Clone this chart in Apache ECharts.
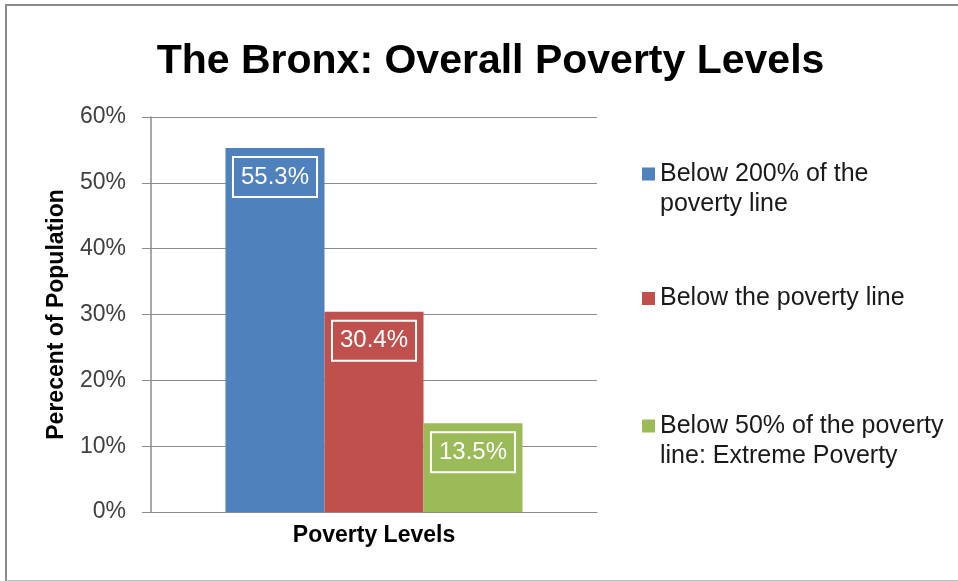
<!DOCTYPE html>
<html>
<head>
<meta charset="utf-8">
<title>The Bronx: Overall Poverty Levels</title>
<script src="https://cdn.jsdelivr.net/npm/echarts@6/dist/echarts.min.js"></script>
<style>
  html, body { margin: 0; padding: 0; background: #fff; }
  #wrap { position: relative; width: 958px; height: 581px; overflow: hidden; }
  #frame {
    position: absolute; left: 5px; top: 4px; width: 960px; height: 574px;
    border-left: 2px solid #8a8a8a; border-top: 2px solid #8a8a8a; border-bottom: 2px solid #bdbdbd;
    pointer-events: none;
  }
  #chart { position: absolute; left: 0; top: 0; width: 958px; height: 581px; }
</style>
</head>
<body>
<div id="wrap">
  <div id="chart"></div>
  <div id="frame"></div>
</div>
<script>
// Share of the Bronx population at each poverty threshold (percent)
const seriesNames = [
  'Below 200% of the\npoverty line',
  'Below the poverty line',
  'Below 50% of the poverty\nline: Extreme Poverty'
];
const seriesValues = [55.3, 30.4, 13.5];
const seriesColors = ['#4F81BD', '#C0504D', '#9BBB59'];
const categories = ['Poverty Levels'];
const yTicks = { min: 0, max: 60, interval: 10 };

const FONT = '"Liberation Sans", Arial, sans-serif';

// Legend swatch: a 13px square at the top of a taller box, so it lines up
// with the first line of a two-line legend entry.
const tallIcon = 'path://M0,0H13V13H0Z M0,42.95H0.05V43H0Z';

const series = seriesNames.map((name, i) => ({
  name: name,
  type: 'bar',
  data: [seriesValues[i]],
  barGap: '0%',
  barCategoryGap: '33.4%',
  itemStyle: { color: seriesColors[i] },
  label: {
    show: true,
    position: 'insideTop',
    distance: 9,
    formatter: p => p.value.toFixed(1) + '%',
    color: '#ffffff',
    fontFamily: FONT,
    fontSize: 24,
    lineHeight: 24,
    borderColor: '#ffffff',
    borderWidth: 2,
    padding: [8, 8, 8, 8]
  },
  emphasis: { disabled: true }
}));

const legendBase = {
  orient: 'vertical',
  left: 642,
  padding: 0,
  itemWidth: 13,
  itemGap: 5,
  selectedMode: false,
  textStyle: { fontFamily: FONT, fontSize: 25, color: '#1a1a1a', lineHeight: 30 }
};

const option = {
  animation: false,
  backgroundColor: '#ffffff',
  title: {
    text: 'The Bronx: Overall Poverty Levels',
    left: 485.5,
    top: 35,
    textAlign: 'center',
    textStyle: { fontFamily: FONT, fontWeight: 'bold', fontSize: 41, color: '#000000', lineHeight: 44 }
  },
  legend: [
    Object.assign({}, legendBase, {
      top: 159, itemHeight: 43,
      data: [{ name: seriesNames[0], icon: tallIcon }]
    }),
    Object.assign({}, legendBase, {
      top: 283.5, itemHeight: 13,
      data: [{ name: seriesNames[1], icon: 'rect' }]
    }),
    Object.assign({}, legendBase, {
      top: 411, itemHeight: 43,
      data: [{ name: seriesNames[2], icon: tallIcon }]
    })
  ],
  grid: { left: 151, right: 361, top: 117, bottom: 69, containLabel: false },
  xAxis: {
    type: 'category',
    data: categories,
    name: categories[0],
    nameLocation: 'middle',
    nameGap: 12,
    nameTextStyle: { fontFamily: FONT, fontWeight: 'bold', fontSize: 23, color: '#000000', verticalAlign: 'top' },
    axisLine: { show: true, lineStyle: { color: '#8c8c8c', width: 1 } },
    axisTick: { show: false },
    axisLabel: { show: false },
    splitLine: { show: false }
  },
  yAxis: {
    type: 'value',
    min: yTicks.min,
    max: yTicks.max,
    interval: yTicks.interval,
    name: 'Perecent of Population',
    nameLocation: 'middle',
    nameGap: 94,
    nameRotate: 90,
    nameTextStyle: { fontFamily: FONT, fontWeight: 'bold', fontSize: 23, color: '#000000', verticalAlign: 'middle' },
    axisLine: { show: true, lineStyle: { color: '#8c8c8c', width: 1.5 } },
    axisTick: { show: true, inside: false, length: 9, lineStyle: { color: '#8c8c8c', width: 1 } },
    axisLabel: {
      margin: 25,
      fontFamily: FONT,
      fontSize: 23,
      color: '#404040',
      formatter: v => v + '%'
    },
    splitLine: { show: true, lineStyle: { color: '#8c8c8c', width: 1 } }
  },
  series: series
};

const chart = echarts.init(document.getElementById('chart'), null, { renderer: 'canvas' });
chart.setOption(option);
</script>
</body>
</html>
